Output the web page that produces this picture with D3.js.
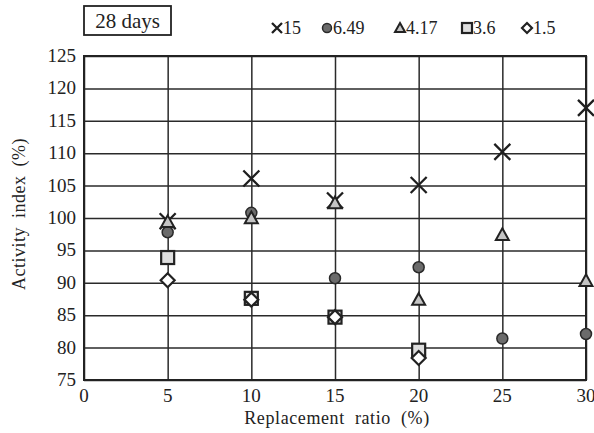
<!DOCTYPE html>
<html>
<head>
<meta charset="utf-8">
<script src="https://cdn.jsdelivr.net/npm/d3@7"></script>
<style>
  body { margin: 0; background: #fff; }
  text { font-family: "Liberation Serif", "DejaVu Serif", serif; fill: #222; }
</style>
</head>
<body>
<svg id="canvas" width="594" height="433"></svg>
<script>
let ratios = [5, 10, 15, 20, 25, 30];
let seriesNames = ["15", "6.49", "4.17", "3.6", "1.5"];
let s15 = [99.5, 106.1, 102.7, 105.1, 110.2, 117.0];
let s649 = [97.8, 100.8, 90.7, 92.4, 81.4, 82.1];
let s417 = [99.4, 100.0, 102.3, 87.4, 97.4, 90.3];
let s36 = [93.9, 87.6, 84.7, 79.6];
let s15b = [90.4, 87.4, 84.7, 78.4];
let xTicks = [0, 5, 10, 15, 20, 25, 30];
let yTicks = [75, 80, 85, 90, 95, 100, 105, 110, 115, 120, 125];

let svg = d3.select("#canvas");
let margin = { left: 84, right: 8, top: 56, bottom: 53 };
let width = 594 - margin.left - margin.right;
let height = 433 - margin.top - margin.bottom;

let xScale = d3.scaleLinear().domain([0, 30]).range([margin.left, margin.left + width]);
let yScale = d3.scaleLinear().domain([75, 125]).range([margin.top + height, margin.top]);

// grid
svg.append("g")
  .attr("transform", "translate(0," + (margin.top + height) + ")")
  .call(d3.axisBottom(xScale).tickValues(xTicks).tickSize(-height).tickFormat(""))
  .call(g => g.select(".domain").remove())
  .selectAll("line").attr("stroke", "#2a2a2a").attr("stroke-width", 1.5);

svg.append("g")
  .attr("transform", "translate(" + margin.left + ",0)")
  .call(d3.axisLeft(yScale).tickValues(yTicks).tickSize(-width).tickFormat(""))
  .call(g => g.select(".domain").remove())
  .selectAll("line").attr("stroke", "#2a2a2a").attr("stroke-width", 1.5);

svg.append("rect")
  .attr("x", margin.left).attr("y", margin.top)
  .attr("width", width).attr("height", height)
  .attr("fill", "none").attr("stroke", "#222").attr("stroke-width", 2);

// tick labels
svg.selectAll(".xlab").data(xTicks).enter().append("text")
  .attr("x", d => xScale(d)).attr("y", margin.top + height + 22)
  .attr("text-anchor", "middle").attr("font-size", 19).text(d => d);

svg.selectAll(".ylab").data(yTicks).enter().append("text")
  .attr("x", margin.left - 8).attr("y", d => yScale(d) + 6)
  .attr("text-anchor", "end").attr("font-size", 19).text(d => d);

svg.append("text")
  .attr("x", xScale(15) + 2).attr("y", 424)
  .attr("text-anchor", "middle").attr("font-size", 18)
  .attr("word-spacing", 5).attr("letter-spacing", 0.6)
  .text("Replacement ratio (%)");

svg.append("text")
  .attr("transform", "translate(25," + (yScale(100) - 4) + ") rotate(-90)")
  .attr("text-anchor", "middle").attr("font-size", 18)
  .attr("word-spacing", 4).attr("letter-spacing", 0.5)
  .text("Activity index (%)");

// "28 days" box
svg.append("rect").attr("x", 84).attr("y", 6).attr("width", 87).attr("height", 29)
  .attr("fill", "#fff").attr("stroke", "#222").attr("stroke-width", 1.8);
svg.append("text").attr("x", 127.5).attr("y", 28).attr("text-anchor", "middle")
  .attr("font-size", 21).text("28 days");

// marker shapes
let drawMarker = (g, type, x, y, size) => {
  if (type === "cross") {
    let h = size;
    g.append("path")
      .attr("d", `M${x - h},${y - h}L${x + h},${y + h}M${x - h},${y + h}L${x + h},${y - h}`)
      .attr("stroke", "#1e1e1e").attr("stroke-width", 2.3).attr("fill", "none");
  } else if (type === "circle") {
    g.append("circle").attr("cx", x).attr("cy", y).attr("r", size)
      .attr("fill", "#6b6b6b").attr("stroke", "#2a2a2a").attr("stroke-width", 1.5);
  } else if (type === "triangle") {
    let h = size;
    g.append("path")
      .attr("d", `M${x},${y - h}L${x + h},${y + h * 0.8}L${x - h},${y + h * 0.8}Z`)
      .attr("fill", "#c4c4c4").attr("stroke", "#222").attr("stroke-width", 2);
  } else if (type === "square") {
    g.append("rect").attr("x", x - size).attr("y", y - size)
      .attr("width", size * 2).attr("height", size * 2)
      .attr("fill", "#dedede").attr("stroke", "#222").attr("stroke-width", 2.2);
  } else if (type === "diamond") {
    g.append("path")
      .attr("d", `M${x},${y - size}L${x + size},${y}L${x},${y + size}L${x - size},${y}Z`)
      .attr("fill", "#fff").attr("stroke", "#222").attr("stroke-width", 2.2);
  }
};

let series = [
  { values: s15, type: "cross", size: 8 },
  { values: s649, type: "circle", size: 5.5 },
  { values: s417, type: "triangle", size: 6.5 },
  { values: s36, type: "square", size: 6.5 },
  { values: s15b, type: "diamond", size: 7 }
];

let marks = svg.append("g");
series.forEach(s => {
  s.values.forEach((v, i) => {
    drawMarker(marks, s.type, xScale(ratios[i]), yScale(v), s.size);
  });
});

// legend
let legendX = [277, 327, 400, 467, 527];
let legend = svg.append("g");
series.forEach((s, i) => {
  let lx = legendX[i];
  let ly = 28;
  drawMarker(legend, s.type, lx, ly, s.type === "circle" ? 4.5 : 5);
  legend.append("text").attr("x", lx + 6).attr("y", ly + 6)
    .attr("font-size", 18).text(seriesNames[i]);
});
</script>
</body>
</html>
